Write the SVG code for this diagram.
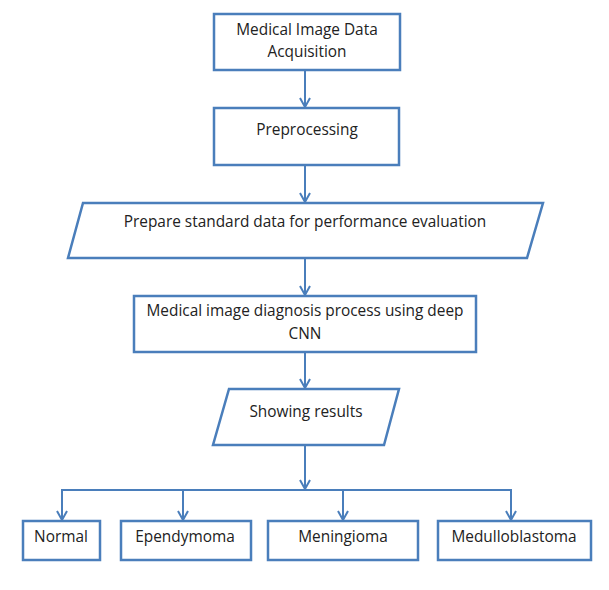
<svg xmlns="http://www.w3.org/2000/svg" width="609" height="590" viewBox="0 0 609 590">
<style>
.box{fill:#fff;stroke:#4a7ebb;stroke-width:2.5}
.lbl{font-family:"Open Sans","Liberation Sans",Arial,sans-serif;font-size:15.4px;fill:#222;text-anchor:middle}
.conn{fill:none;stroke:#4a7ebb;stroke-width:2}
</style>
<defs>
<marker id="arr" viewBox="0 0 12 12" refX="11" refY="6" markerWidth="12" markerHeight="12" markerUnits="userSpaceOnUse" orient="auto">
<polyline points="2,1 11,6 2,11" fill="none" stroke="#4a7ebb" stroke-width="2"/>
</marker>
</defs>
<rect width="609" height="590" fill="#fff"/>
<g id="connectors">
<line class="conn" x1="305" y1="70" x2="305" y2="107" marker-end="url(#arr)"/>
<line class="conn" x1="305" y1="165" x2="305" y2="202" marker-end="url(#arr)"/>
<line class="conn" x1="305" y1="258" x2="305" y2="295" marker-end="url(#arr)"/>
<line class="conn" x1="305" y1="352" x2="305" y2="388" marker-end="url(#arr)"/>
<line class="conn" x1="305" y1="445" x2="305" y2="489" marker-end="url(#arr)"/>
<polyline class="conn" points="62,520 62,490 511,490 511,520"/>
<line class="conn" x1="62" y1="490" x2="62" y2="520" marker-end="url(#arr)"/>
<line class="conn" x1="183" y1="490" x2="183" y2="520" marker-end="url(#arr)"/>
<line class="conn" x1="343" y1="490" x2="343" y2="520" marker-end="url(#arr)"/>
<line class="conn" x1="511" y1="490" x2="511" y2="520" marker-end="url(#arr)"/>
</g>
<g id="n1">
<rect class="box" x="214" y="14" width="186" height="56"/>
<text class="lbl" x="307" y="35">Medical Image Data</text>
<text class="lbl" x="307" y="57">Acquisition</text>
</g>
<g id="n2">
<rect class="box" x="214" y="108" width="185" height="57"/>
<text class="lbl" x="307" y="135">Preprocessing</text>
</g>
<g id="n3">
<polygon class="box" points="83,203 543,203 527,258 68,258"/>
<text class="lbl" x="305" y="227">Prepare standard data for performance evaluation</text>
</g>
<g id="n4">
<rect class="box" x="134" y="296" width="342" height="56"/>
<text class="lbl" x="305" y="316">Medical image diagnosis process using deep</text>
<text class="lbl" x="305" y="339">CNN</text>
</g>
<g id="n5">
<polygon class="box" points="229,389 399,389 384,445 213,445"/>
<text class="lbl" x="306" y="417">Showing results</text>
</g>
<g id="n6">
<rect class="box" x="23" y="521" width="77" height="39"/>
<text class="lbl" x="61" y="542">Normal</text>
</g>
<g id="n7">
<rect class="box" x="121" y="521" width="130" height="39"/>
<text class="lbl" x="185" y="542">Ependymoma</text>
</g>
<g id="n8">
<rect class="box" x="268" y="521" width="150" height="39"/>
<text class="lbl" x="343" y="542">Meningioma</text>
</g>
<g id="n9">
<rect class="box" x="438" y="521" width="153" height="39"/>
<text class="lbl" x="514" y="542">Medulloblastoma</text>
</g>
</svg>
